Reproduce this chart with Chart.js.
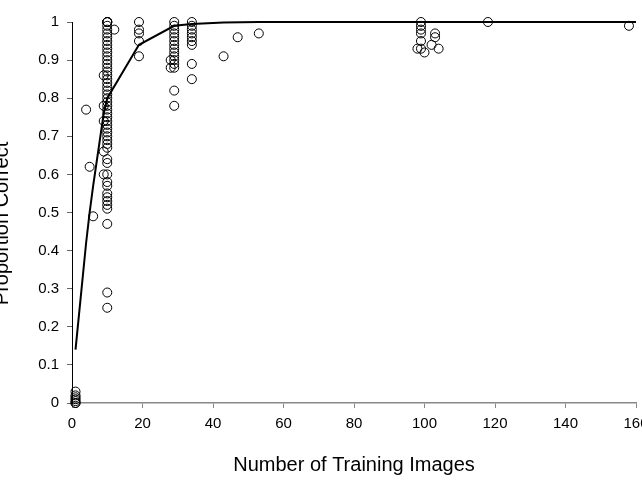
<!DOCTYPE html>
<html lang="en">
<head>
  <meta charset="UTF-8">
  <title>Proportion Correct vs Training Images</title>
  <script src="https://cdn.jsdelivr.net/npm/chart.js"></script>
  <style>
    html, body { margin: 0; padding: 0; background: #fff; overflow: hidden; }
    #wrap { position: absolute; left: -14px; top: 0; width: 680px; height: 498px; }
  </style>
</head>
<body>
  <div id="wrap"><canvas id="accChart"></canvas></div>

  <script>
// observed scores: number of training images and proportion correct (paired)
const trainImages = [
  1, 1, 1, 1, 1, 1, 1,
  4, 5, 6,
  9, 9, 9, 9, 9,
  10, 10, 10, 10, 10, 10, 10, 10, 10, 10, 10, 10, 10, 10, 10, 10, 10, 10, 10, 10,
  10, 10, 10, 10, 10, 10, 10, 10, 10, 10, 10, 10, 10, 10, 10, 10, 10, 10, 10, 10,
  10, 10, 10, 10, 10, 10, 10, 10, 10, 10,
  12,
  19, 19, 19, 19, 19,
  28, 28,
  29, 29, 29, 29, 29, 29, 29, 29, 29, 29, 29, 29, 29, 29, 29,
  34, 34, 34, 34, 34, 34, 34, 34, 34,
  43, 47, 53,
  98, 99, 99, 99, 99, 99, 99, 100, 102, 103, 103, 104,
  118, 158
];
const propCorrect = [
  0, 0, 0.005, 0.01, 0.015, 0.02, 0.03,
  0.77, 0.62, 0.49,
  0.86, 0.78, 0.74, 0.66, 0.6,
  1, 1, 1, 1, 0.99, 0.98, 0.97, 0.96, 0.95, 0.94, 0.93, 0.92, 0.91, 0.9, 0.89, 0.88, 0.87, 0.86, 0.85, 0.84,
  0.83, 0.82, 0.81, 0.8, 0.79, 0.78, 0.77, 0.76, 0.75, 0.74, 0.73, 0.72, 0.71, 0.7, 0.69, 0.68, 0.67, 0.64, 0.63, 0.6,
  0.58, 0.57, 0.55, 0.54, 0.53, 0.52, 0.51, 0.47, 0.29, 0.25,
  0.98,
  1, 0.98, 0.97, 0.95, 0.91,
  0.9, 0.88,
  1, 0.99, 0.98, 0.97, 0.96, 0.95, 0.94, 0.93, 0.92, 0.91, 0.9, 0.89, 0.88, 0.82, 0.78,
  1, 0.99, 0.98, 0.97, 0.96, 0.95, 0.94, 0.89, 0.85,
  0.91, 0.96, 0.97,
  0.93, 1, 0.99, 0.98, 0.97, 0.95, 0.93, 0.92, 0.94, 0.97, 0.96, 0.93,
  1, 0.99
];

// fitted curve
const fitImages = [1, 4, 5, 6, 9, 10, 19, 29, 34, 43, 53, 99, 160];
const fitProp = [0.14, 0.42, 0.5, 0.57, 0.76, 0.8, 0.94, 0.99, 0.995, 0.999, 1, 1, 1];

const xTicks = [0, 20, 40, 60, 80, 100, 120, 140, 160];
const yTicks = ['0', '0.1', '0.2', '0.3', '0.4', '0.5', '0.6', '0.7', '0.8', '0.9', '1'];

const xTitle = 'Number of Training Images';
const yTitle = 'Proportion Correct';

document.addEventListener('DOMContentLoaded', function () {
  const FONT = "'Liberation Sans', Arial, sans-serif";

  // y title drawn by hand so it can sit a bit below the axis centre, like the original
  const yTitlePlugin = {
    id: 'yTitle',
    afterDraw(chart) {
      const ctx = chart.ctx;
      const area = chart.chartArea;
      ctx.save();
      ctx.translate(16, (area.top + area.bottom) / 2 + 11);
      ctx.rotate(-Math.PI / 2);
      ctx.fillStyle = '#000';
      ctx.font = '20px ' + FONT;
      ctx.textAlign = 'center';
      ctx.textBaseline = 'middle';
      ctx.fillText(yTitle, 0, 0);
      ctx.restore();
    }
  };

  const points = trainImages.map((x, i) => ({ x: x, y: propCorrect[i] }));
  const fit = fitImages.map((x, i) => ({ x: x, y: fitProp[i] }));

  const ctx = document.getElementById('accChart').getContext('2d');
  new Chart(ctx, {
    type: 'scatter',
    data: {
      datasets: [{
        type: 'line',
        data: fit,
        borderColor: '#000',
        borderWidth: 2,
        pointRadius: 0,
        tension: 0,
        fill: false,
        clip: false
      }, {
        data: points,
        pointStyle: 'circle',
        pointRadius: 4.5,
        pointBorderWidth: 1,
        pointBorderColor: '#000',
        pointBackgroundColor: 'rgba(0,0,0,0)',
        clip: false
      }]
    },
    options: {
      responsive: true,
      maintainAspectRatio: false,
      animation: false,
      events: [],
      layout: { padding: { top: 22, right: 30, bottom: 17, left: 0 } },
      plugins: {
        legend: { display: false },
        tooltip: { enabled: false }
      },
      scales: {
        x: {
          type: 'linear',
          min: 0,
          max: 160,
          afterBuildTicks: s => { s.ticks = xTicks.map(v => ({ value: v })); },
          afterFit: s => { s.height = 78; },
          grid: { display: true, drawOnChartArea: false, tickLength: 5, color: '#888' },
          border: { color: '#888', width: 1.5 },
          ticks: { color: '#000', font: { family: FONT, size: 15 }, padding: 7, maxRotation: 0 },
          title: { display: true, text: xTitle, color: '#000', font: { family: FONT, size: 20 } }
        },
        y: {
          min: 0,
          max: 1,
          afterBuildTicks: s => { s.ticks = yTicks.map((t, i) => ({ value: i / 10 })); },
          afterFit: s => { s.width = 86; },
          grid: { display: true, drawOnChartArea: false, tickLength: 5, color: '#666' },
          border: { color: '#000', width: 1 },
          ticks: {
            color: '#000',
            font: { family: FONT, size: 15 },
            padding: 8,
            callback: (v, i) => yTicks[i]
          }
        }
      }
    },
    plugins: [yTitlePlugin]
  });
});
  </script>
</body>
</html>
